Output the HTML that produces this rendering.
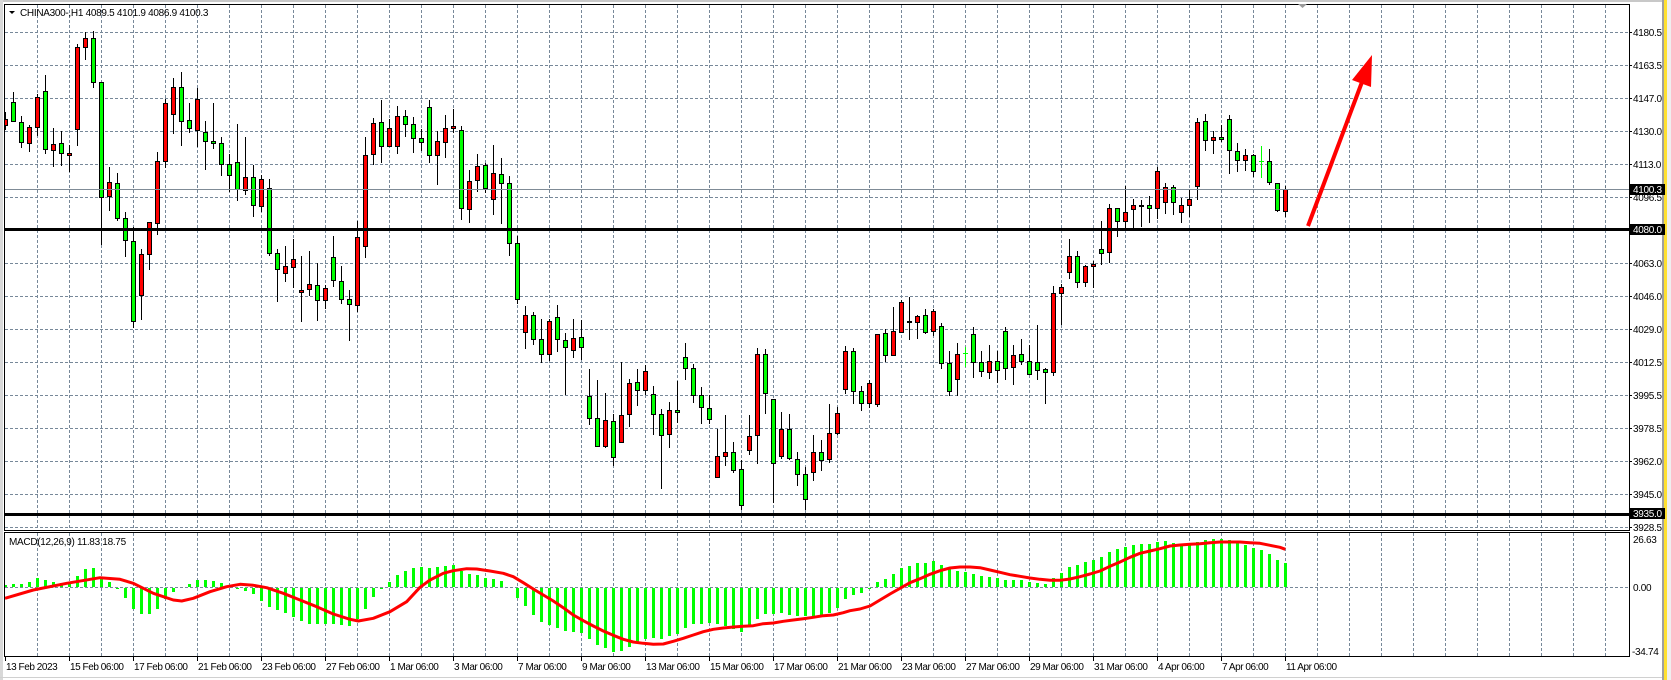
<!DOCTYPE html>
<html><head><meta charset="utf-8">
<style>
html,body{margin:0;padding:0;background:#fff;width:1671px;height:680px;overflow:hidden}
svg{display:block}
text{font-family:"Liberation Sans",Arial,sans-serif;font-size:10px;letter-spacing:-0.3px;fill:#000}
.t{letter-spacing:-0.45px}
</style></head><body>
<svg id="s" width="1671" height="680" viewBox="0 0 1671 680" xmlns="http://www.w3.org/2000/svg">
<defs>
<clipPath id="cm"><rect x="5" y="5" width="1624" height="525"/></clipPath>
<clipPath id="cd"><rect x="5" y="533" width="1624" height="123"/></clipPath>
</defs>
<rect width="1671" height="680" fill="#fff"/>
<rect x="0" y="0" width="1671" height="2" fill="#c8c8c8"/>
<rect x="0" y="0" width="3" height="680" fill="#d8d8d8"/>
<rect x="1662" y="0" width="2" height="680" fill="#a0a0a0"/>
<rect x="1664" y="0" width="3" height="680" fill="#ffe030"/>
<rect x="1667" y="0" width="4" height="680" fill="#efefef"/>
<rect x="0" y="677" width="1662" height="1" fill="#d0d0d0"/>
<g id="grid" shape-rendering="crispEdges"></g>
<g id="candles" clip-path="url(#cm)" shape-rendering="crispEdges"></g>
<g id="lines" shape-rendering="crispEdges">
<rect x="5" y="189" width="1624" height="1" fill="#7f8b96"/>
<rect x="5" y="228" width="1624" height="3" fill="#000"/>
<rect x="5" y="513" width="1624" height="3" fill="#000"/>
</g>
<g id="macd" clip-path="url(#cd)"></g>
<g shape-rendering="crispEdges" fill="none" stroke="#000" stroke-width="1">
<rect x="4.5" y="4.5" width="1625" height="526"/>
<rect x="4.5" y="532.5" width="1625" height="124"/>
</g>
<g id="ticks" shape-rendering="crispEdges"></g>
<polygon points="9,11 15,11 12,14" fill="#000"/>
<polygon points="1298,4 1307,4 1302.5,8" fill="#9a9a9a"/>
<text x="20" y="16">CHINA300-,H1  4089.5 4101.9 4086.9 4100.3</text>
<text x="9" y="545">MACD(12,26,9) 11.83 18.75</text>
<!-- price labels -->
<text x="1633" y="36">4180.5</text>
<text x="1633" y="69">4163.5</text>
<text x="1633" y="102">4147.0</text>
<text x="1633" y="135">4130.0</text>
<text x="1633" y="168">4113.0</text>
<text x="1633" y="201">4096.5</text>
<text x="1633" y="267">4063.0</text>
<text x="1633" y="300">4046.0</text>
<text x="1633" y="333">4029.0</text>
<text x="1633" y="366">4012.5</text>
<text x="1633" y="399">3995.5</text>
<text x="1633" y="432">3978.5</text>
<text x="1633" y="465">3962.0</text>
<text x="1633" y="498">3945.0</text>
<text x="1633" y="531">3928.5</text>
<rect x="1630" y="184" width="35" height="11" fill="#000"/>
<text x="1633" y="193" style="fill:#fff">4100.3</text>
<rect x="1630" y="224" width="35" height="11" fill="#000"/>
<text x="1633" y="233" style="fill:#fff">4080.0</text>
<rect x="1630" y="508" width="35" height="11" fill="#000"/>
<text x="1633" y="517" style="fill:#fff">3935.0</text>
<text x="1633" y="543">26.63</text>
<text x="1633" y="591">0.00</text>
<text x="1632" y="655">-34.74</text>
<!-- time labels -->
<g class="t">
<text class="t" x="6" y="670">13 Feb 2023</text>
<text class="t" x="70" y="670">15 Feb 06:00</text>
<text class="t" x="134" y="670">17 Feb 06:00</text>
<text class="t" x="198" y="670">21 Feb 06:00</text>
<text class="t" x="262" y="670">23 Feb 06:00</text>
<text class="t" x="326" y="670">27 Feb 06:00</text>
<text class="t" x="390" y="670">1 Mar 06:00</text>
<text class="t" x="454" y="670">3 Mar 06:00</text>
<text class="t" x="518" y="670">7 Mar 06:00</text>
<text class="t" x="582" y="670">9 Mar 06:00</text>
<text class="t" x="646" y="670">13 Mar 06:00</text>
<text class="t" x="710" y="670">15 Mar 06:00</text>
<text class="t" x="774" y="670">17 Mar 06:00</text>
<text class="t" x="838" y="670">21 Mar 06:00</text>
<text class="t" x="902" y="670">23 Mar 06:00</text>
<text class="t" x="966" y="670">27 Mar 06:00</text>
<text class="t" x="1030" y="670">29 Mar 06:00</text>
<text class="t" x="1094" y="670">31 Mar 06:00</text>
<text class="t" x="1158" y="670">4 Apr 06:00</text>
<text class="t" x="1222" y="670">7 Apr 06:00</text>
<text class="t" x="1286" y="670">11 Apr 06:00</text>
</g>
<!-- arrow -->
<line x1="1308" y1="226" x2="1362" y2="82" stroke="#ff0000" stroke-width="4"/>
<polygon points="1372,55 1352,80 1371,87" fill="#ff0000"/>
</svg>
<script>
(function(){
var g='';
function rc(x,y,w,h,f){ if(h<=0)h=1; g+='<rect x="'+x+'" y="'+y+'" width="'+w+'" height="'+h+'" fill="'+f+'"/>'; }
// grid
var gs='';
for(var n=0;n<50;n++){var x=37.5+32*n;
 gs+='<line x1="'+x+'" y1="5" x2="'+x+'" y2="530" stroke="#778899" stroke-dasharray="3,2"/>';
 gs+='<line x1="'+x+'" y1="533" x2="'+x+'" y2="656" stroke="#778899" stroke-dasharray="3,2"/>';}
for(var k=0;k<16;k++){var y=Math.round(32.3+32.96*k)+0.5;
 gs+='<line x1="5" y1="'+y+'" x2="1629" y2="'+y+'" stroke="#778899" stroke-dasharray="3,2"/>';}
gs+='<line x1="5" y1="587.5" x2="1629" y2="587.5" stroke="#778899" stroke-dasharray="3,2"/>';
document.getElementById('grid').innerHTML=gs;
// ticks
var ts='';
for(var j=0;j<21;j++){ts+='<rect x="'+(5+64*j)+'" y="657" width="1" height="4" fill="#000"/>';}
for(var k=0;k<16;k++){var y=Math.round(32.3+32.96*k); ts+='<rect x="1629" y="'+y+'" width="3" height="1" fill="#000"/>';}
document.getElementById('ticks').innerHTML=ts;
// candles
var S=[
[0,20,[[276,296,316,328,'r'],[216,247,304,304,'g'],[289,305,367,380,'g'],[316,320,370,392,'r'],[222,232,320,344,'r'],[165,214,388,398,'g'],[324,373,391,437,'r'],[334,370,400,434,'g'],[376,400,406,452,'r'],[72,82,328,375,'r'],[37,55,80,116,'r'],[34,55,187,200,'g'],[187,187,532,672,'g'],[441,487,527,570,'r'],[459,490,595,600,'g'],[577,595,661,707,'g'],[620,664,904,920,'g'],[688,703,826,896,'r'],[607,607,703,746,'r'],[396,424,610,641,'r'],[236,250,424,440,'r'],[175,202,283,338,'r'],[157,202,304,375,'g'],[249,300,325,336,'g'],[205,238,331,377,'r'],[303,337,364,446,'g'],[249,364,370,384,'g'],[351,370,433,464,'g'],[403,433,466,514,'g'],[312,427,508,539,'g'],[352,472,511,523,'r'],[435,472,556,587,'g'],[465,478,559,572,'r']]],
[33,60,[[357,385,580,584,'g'],[567,580,628,722,'g'],[558,619,640,662,'r'],[537,598,622,682,'r'],[588,691,697,782,'r'],[573,673,688,704,'r'],[609,676,720,779,'g'],[675,685,720,743,'r'],[528,592,661,677,'g'],[618,664,718,728,'g'],[690,718,733,839,'g'],[483,532,736,752,'r'],[231,286,559,590,'r'],[175,190,283,312,'r'],[120,187,259,305,'g'],[177,205,259,259,'r'],[138,169,259,278,'r'],[150,169,193,229,'g'],[171,193,235,275,'g'],[208,235,247,271,'g'],[120,142,286,305,'g'],[214,244,286,371,'r'],[165,205,247,290,'r'],[146,199,205,217,'r'],[199,211,445,476,'g'],[330,364,448,485,'r'],[282,319,361,392,'r'],[310,316,385,397,'g'],[255,340,418,461,'r'],[294,343,370,488,'g'],[348,370,550,584,'g']]],
[64,230,[[18,40,208,218,'g'],[228,256,305,353,'r'],[246,256,328,341,'g'],[267,328,373,396,'g'],[268,273,373,390,'r'],[225,262,328,362,'g'],[310,331,352,492,'g'],[267,325,361,380,'r'],[270,322,352,388,'g'],[418,499,565,581,'g'],[450,565,649,649,'g'],[490,571,647,652,'r'],[552,574,682,704,'g'],[397,556,637,637,'r'],[448,460,553,587,'r'],[418,457,481,524,'g'],[404,424,481,493,'r'],[468,493,553,613,'g'],[538,553,616,773,'g'],[517,541,613,650,'r'],[454,541,547,576,'g'],[340,382,415,446,'g'],[403,415,496,515,'g'],[472,496,532,578,'g'],[496,535,568,578,'g'],[598,679,742,742,'r'],[556,667,679,704,'r'],[637,667,721,727,'g'],[690,718,826,838,'g'],[556,619,661,673,'r'],[355,373,616,700,'r'],[358,373,490,548,'g']]],
[96,250,[[448,448,640,755,'g'],[487,538,619,625,'r'],[493,538,625,628,'g'],[607,628,673,704,'g'],[652,673,748,778,'g'],[556,607,667,689,'r'],[571,607,631,661,'g'],[463,550,628,637,'r'],[472,490,550,553,'r'],[289,304,418,430,'r'],[295,304,424,460,'g'],[409,424,460,481,'g'],[391,400,460,472,'r'],[253,253,463,469,'r'],[238,250,316,334,'g'],[172,244,316,316,'r'],[151,157,247,247,'r'],[142,214,217,268,'k'],[196,199,217,265,'r'],[178,196,247,250,'g'],[178,184,244,256,'r'],[220,229,340,355,'g'],[304,340,424,436,'g'],[280,313,388,436,'r'],[292,310,310,347,'x'],[232,253,337,382,'g'],[304,337,364,379,'g'],[286,334,367,385,'r'],[304,334,361,396,'g'],[232,244,355,388,'g'],[286,316,352,403,'r'],[268,313,334,343,'g']]],
[128,100,[[736,784,823,823,'g'],[676,787,811,838,'g'],[805,808,817,910,'g'],[559,580,817,826,'r'],[553,562,580,671,'r'],[418,469,517,535,'r'],[454,469,547,562,'g'],[496,499,547,559,'r'],[484,493,499,562,'r'],[364,448,460,493,'g'],[313,325,457,487,'r'],[325,325,364,409,'g'],[259,337,364,385,'r'],[298,316,328,385,'r'],[301,316,319,379,'k'],[289,316,325,367,'g'],[202,214,325,355,'r'],[250,262,307,340,'r'],[256,262,307,343,'g'],[295,316,337,367,'r'],[271,298,316,349,'r'],[55,67,259,298,'r'],[43,64,121,151,'g'],[94,112,121,160,'r'],[76,112,118,124,'g'],[46,58,151,220,'g'],[130,154,181,214,'g'],[148,166,181,211,'r'],[163,166,214,229,'g'],[139,184,184,232,'x'],[148,184,247,253,'g'],[250,250,331,334,'g'],[259,268,334,349,'r']]]
];
var GREEN='#00ff00',RED='#ff0000';
for(var s=0;s<S.length;s++){
 var st=S[s][0],off=S[s][1],arr=S[s][2];
 for(var m=0;m<arr.length;m++){
  var i=st+m,c=arr[m],px=5+8*i;
  var h=Math.round(off+c[0]/3),t=Math.round(off+c[1]/3),b=Math.round(off+c[2]/3),l=Math.round(off+c[3]/3);
  if(c[4]==='x'){rc(px,h,1,l-h+1,GREEN);rc(px-2,t,5,1,GREEN);continue;}
  rc(px,h,1,l-h+1,'#000');
  if(c[4]==='k'){rc(px-2,t,5,Math.max(1,b-t+1),'#000');continue;}
  rc(px-2,t,5,b-t+1,'#000');
  if(b-t>=2) rc(px-1,t+1,3,b-t-1,c[4]==='r'?RED:GREEN);
 }
}
document.getElementById('candles').innerHTML=g;
// MACD
g='';
var HA=[285,282,282,276,264,270,276,280,276,258,237,234,264,276,297,323,358,371,371,356,327,305,292,282,270,270,272,280,290,297,302,311,332,350,361,370,381,394,401,401,402,402,404,407,388,356,320,298,276,256,243];
var HB=[114,111,114,111,107,105,123,132,135,144,148,154,170,203,227,254,276,284,293,302,305,308,327,345,355,365,362,350,335,327,323,326,318,311,293,281,281,279,282,288,296,305,288,267,251,251,248,256,258,258,258,255,248,233,206];
var HC=[195,188,178,156,147,132,114,108,100,99,93,105,118,123,126,132,138,141,144,150,150,150,156,159,162,144,129,111,105,96,90,81,66,57,51,45,42,42,36,33,40,48,42,36,30,27,27,30,39,45,54,60,72,90,99];
var H=[];
for(var i=0;i<HA.length;i++)H.push(490+HA[i]/3);
for(var i=0;i<HB.length;i++)H.push(530+HB[i]/3);
for(var i=0;i<HC.length;i++)H.push(530+HC[i]/3);
var Z=587;
for(var i=0;i<H.length;i++){
 var px=5+8*i,y=Math.round(H[i]);
 if(y<Z) rc(px-1,y,3,Z-y,GREEN); else if(y>Z+1) rc(px-1,Z+1,3,y-Z-1,GREEN);
}
var P=[[5,598.3],[33.3,590],[66.7,583.3],[100,577.7],[120,579.3],[133.3,583.3],[153.3,593.3],[173.3,600],[181.7,601],[193.3,598.3],[210,591.7],[226.7,586.7],[240,584.3],[253.3,585.3],[266.7,587.7],[283.3,593.3],[300,600],[316.7,606.7],[333.3,614],[350,619.3],[358.3,621],[373.3,618.3],[390,611.7],[406.7,601.7],[420,587.3],[430,580],[443.3,573.3],[453.3,570.7],[466.7,568.7],[476.7,569],[490,571],[503.3,573.3],[513.3,576.7],[523.3,582.7],[533.3,589],[543.3,595],[553.3,601],[563.3,607.7],[573.3,615],[583.3,620.7],[593.3,626],[603.3,631],[613.3,635.3],[623.3,639.3],[633.3,642],[643.3,643.3],[653.3,644.3],[663.3,644],[673.3,641.3],[683.3,638.3],[693.3,635],[703.3,631.7],[713.3,629.3],[723.3,628],[733.3,627],[743.3,626.3],[753.3,625.7],[763.3,623.7],[773.3,623],[783.3,621.3],[793.3,620],[803.3,618.7],[813.3,617.3],[823.3,615.7],[833.3,615],[843.3,612.7],[850,610.7],[860,609],[870,606],[880,600],[890,594],[900,588.3],[910,582.7],[920,578.7],[930,574.3],[940,570.7],[950,568],[960,567],[970,567],[980,567.7],[990,570],[1000,572.3],[1010,574.7],[1020,576.3],[1030,578],[1040,579.3],[1050,580.3],[1060,580.3],[1070,579],[1080,576.7],[1090,574],[1100,571],[1110,566.3],[1120,562],[1130,557.3],[1140,553.3],[1150,551],[1160,548.7],[1170,546],[1180,545],[1190,544.3],[1200,543.7],[1210,542.7],[1220,542],[1230,542],[1240,542],[1250,542.7],[1260,543.3],[1270,545.3],[1280,547.3],[1285.3,549.3]];
var pts=P.map(function(p){return p[0]+','+p[1];}).join(' ');
g+='<polyline points="'+pts+'" fill="none" stroke="#ff0000" stroke-width="3" stroke-linejoin="round"/>';
document.getElementById('macd').innerHTML=g;
})();
</script>
</body></html>
